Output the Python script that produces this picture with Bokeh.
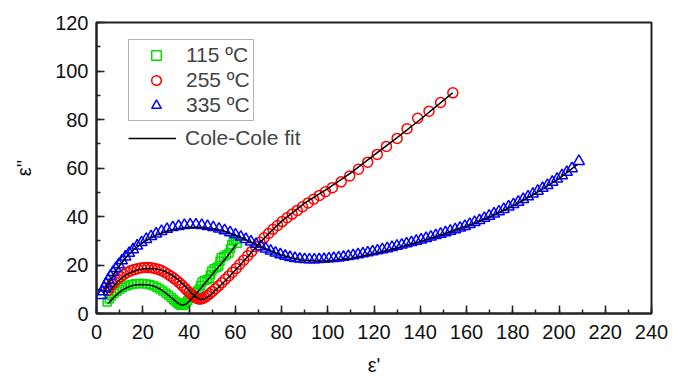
from bokeh.plotting import figure
from bokeh.models import Legend, LegendItem, SingleIntervalTicker, Range1d
from bokeh.embed import file_html
from bokeh.resources import INLINE

# ---------------- data ----------------
x_ticks = [0, 20, 40, 60, 80, 100, 120, 140, 160, 180, 200, 220, 240]
y_ticks = [0, 20, 40, 60, 80, 100, 120]

labels = ["115 ºC", "255 ºC", "335 ºC"]
fit_label = "Cole-Cole fit"
x_title = "ε'"
y_title = "ε''"

g_x = [4.6, 5.5, 6.5, 7.6, 8.8, 10.0, 11.3, 12.7, 14.1, 15.6, 17.1, 18.6, 20.1, 21.6,
       23.1, 24.6, 26.0, 27.4, 28.7, 30.0, 31.2, 32.3, 33.3, 34.2, 35.0, 35.7, 36.3,
       36.9, 37.4, 38.0, 38.7, 39.5, 40.4, 41.5, 42.6, 43.5, 44.3, 45.0, 45.6, 46.6,
       47.8, 48.8, 49.3, 49.8, 50.8, 52.0, 52.9, 53.4, 53.9, 55.0, 56.2, 57.3, 58.0,
       58.5, 59.2, 60.0, 60.8]
g_y = [4.7, 6.0, 7.2, 8.3, 9.2, 10.0, 10.7, 11.3, 11.8, 12.1, 12.3, 12.4, 12.4, 12.2,
       11.9, 11.4, 10.8, 10.1, 9.3, 8.4, 7.5, 6.6, 5.7, 4.9, 4.3, 3.8, 3.5,
       3.3, 3.4, 3.8, 4.5, 5.4, 6.5, 7.6, 8.6, 9.2, 10.0, 11.5, 13.0, 13.6,
       13.9, 14.5, 16.0, 17.5, 18.5, 19.0, 19.6, 21.5, 23.0, 23.6, 24.2, 25.0, 26.8,
       28.5, 30.0, 30.5, 29.0]

r_x = [5.0, 5.8, 6.8, 7.9, 9.1, 10.4, 11.8, 13.2, 14.7, 16.2, 17.7, 19.2, 20.7, 22.2,
       23.7, 25.2, 26.7, 28.1, 29.5, 30.9, 32.2, 33.5, 34.7, 35.9, 37.0, 38.1, 39.1,
       40.1, 41.0, 41.9, 42.7, 43.5, 44.3, 45.1, 45.9, 46.8, 47.8, 48.9, 50.1, 51.4,
       52.8, 54.2, 55.7, 57.2, 58.8, 60.4, 62.0, 63.7, 65.4, 67.1, 68.9, 70.7, 72.5,
       74.4, 76.3, 78.3, 80.3, 82.4, 84.6, 86.8, 89.1, 91.5, 93.9, 96.4, 99.0, 102.0,
       105.8, 109.5, 113.3, 117.3, 121.4, 125.4, 130.0, 134.3, 138.9, 143.8, 148.8, 154.1]
r_y = [9.5, 10.8, 12.0, 13.1, 14.2, 15.2, 16.1, 16.9, 17.6, 18.1, 18.5, 18.8, 19.0, 19.0,
       18.9, 18.6, 18.2, 17.7, 17.0, 16.2, 15.4, 14.5, 13.6, 12.6, 11.6, 10.6, 9.6,
       8.7, 7.9, 7.2, 6.6, 6.2, 6.0, 6.0, 6.2, 6.6, 7.3, 8.1, 9.1, 10.2,
       11.4, 12.7, 14.1, 15.5, 17.0, 18.6, 20.3, 22.0, 23.8, 25.6, 27.5, 29.4, 31.2,
       33.0, 34.7, 36.3, 37.9, 39.5, 41.0, 42.5, 44.0, 45.6, 47.1, 48.7, 50.2, 51.9,
       54.3, 56.7, 59.5, 62.4, 65.6, 68.9, 72.2, 76.2, 80.5, 83.4, 87.0, 91.0]

b_x = [2.0, 2.6, 3.3, 4.1, 5.0, 6.0, 7.1, 8.3, 9.6, 11.0, 12.5, 14.1, 15.8, 17.6, 19.5,
       21.5, 23.6, 25.8, 28.1, 30.5, 33.0, 35.5, 38.0, 40.5, 43.0, 45.5, 48.0, 50.5,
       53.0, 55.4, 57.8, 60.1, 62.4, 64.6, 66.8, 69.0, 71.1, 73.2, 75.3, 77.4, 79.5,
       81.6, 83.7, 85.8, 87.9, 90.0, 92.1, 94.2, 96.3, 98.4, 100.5, 102.6, 104.7, 106.8,
       108.9, 111.0, 113.1, 115.2, 117.3, 119.4, 121.5, 123.6, 125.7, 127.8, 129.9,
       132.0, 134.1, 136.2, 138.3, 140.4, 142.5, 144.6, 146.7, 148.8, 150.9, 153.0,
       155.1, 157.2, 159.3, 161.4, 163.5, 165.6, 167.7, 169.8, 171.9, 174.0, 176.1,
       178.2, 180.3, 182.4, 184.5, 186.6, 188.7, 190.8, 192.9, 195.0, 197.1, 199.2,
       201.3, 203.4, 205.6, 208.6]
b_y = [7.5, 9.0, 10.6, 12.2, 13.8, 15.4, 17.0, 18.6, 20.2, 21.8, 23.4, 24.9, 26.4, 27.9,
       29.3, 30.6, 31.8, 32.9, 33.9, 34.8, 35.5, 36.0, 36.4, 36.6, 36.6, 36.4, 36.0,
       35.5, 34.9, 34.2, 33.4, 32.5, 31.6, 30.6, 29.6, 28.6, 27.6, 26.7, 25.8, 25.0,
       24.3, 23.7, 23.2, 22.8, 22.5, 22.3, 22.2, 22.2, 22.3, 22.4, 22.6, 22.8, 23.0,
       23.3, 23.6, 23.9, 24.3, 24.7, 25.1, 25.5, 25.9, 26.4, 26.8, 27.3, 27.8, 28.3,
       28.8, 29.3, 29.9, 30.4, 31.0, 31.6, 32.2, 32.8, 33.4, 34.0, 34.6, 35.3, 36.0,
       36.8, 37.6, 38.4, 39.3, 40.2, 41.1, 42.0, 43.0, 44.0, 45.0, 46.0, 47.1, 48.2,
       49.3, 50.5, 51.7, 52.9, 54.2, 55.5, 56.9, 58.3, 59.8, 62.8]

gf_x = [5, 7, 9, 11, 13, 15, 17.5, 20, 22.5, 25, 27.5, 30, 32, 34, 35.5, 36.5, 37.5,
        38.5, 40, 42, 45, 48, 51, 54, 57, 60.5]
gf_y = [4.0, 6.2, 8.0, 9.5, 10.6, 11.4, 11.9, 12.0, 11.8, 11.2, 10.1, 8.4, 6.8, 5.2,
        4.1, 3.6, 3.5, 3.8, 4.9, 7.0, 10.3, 13.7, 17.2, 20.6, 24.1, 28.5]

rf_x = [5.5, 7, 9, 11, 13, 15, 17.5, 20, 22.5, 25, 27.5, 30, 32.5, 35, 37.5, 40, 42,
        44, 45.5, 47, 49, 52, 56, 60, 65, 70, 75, 80, 90, 100, 110, 120, 130, 140, 154]
rf_y = [8.5, 10.8, 13.0, 14.7, 16.0, 17.0, 17.9, 18.4, 18.6, 18.5, 18.0, 17.2, 15.9,
        14.2, 12.0, 9.6, 7.6, 6.1, 5.8, 6.2, 7.4, 10.0, 13.8, 17.8, 23.0, 28.5, 33.5,
        38.0, 45.5, 51.5, 58.0, 65.3, 72.5, 80.0, 91.0]

bf_x = [3, 4, 5.5, 7.5, 10, 13, 16, 20, 25, 30, 35, 40, 45, 50, 55, 60, 65, 70, 75, 80,
        85, 90, 95, 100, 110, 120, 130, 140, 150, 160, 170, 180, 190, 200, 208]
bf_y = [7.5, 10.0, 13.0, 16.3, 19.8, 23.3, 26.2, 29.2, 32.0, 33.8, 35.0, 35.6, 35.6,
        35.1, 34.0, 32.3, 30.2, 28.0, 25.9, 24.0, 22.7, 21.9, 21.6, 21.7, 22.8, 24.7,
        27.0, 29.7, 32.7, 36.0, 39.8, 44.3, 49.6, 55.6, 61.5]

# ---------------- figure ----------------
FONT = "Liberation Sans"
p = figure(width=686, height=379, output_backend="svg", toolbar_location=None,
           x_range=Range1d(x_ticks[0], x_ticks[-1]), y_range=Range1d(y_ticks[0], y_ticks[-1]),
           min_border_left=96, min_border_right=35, min_border_top=22,
           min_border_bottom=66)
p.grid.visible = False
p.outline_line_color = "#222222"
p.outline_line_width = 2
p.background_fill_color = "white"
p.border_fill_color = "white"

for ax, ticks in ((p.xaxis[0], x_ticks), (p.yaxis[0], y_ticks)):
    ax.ticker = SingleIntervalTicker(interval=ticks[1] - ticks[0], num_minor_ticks=2)
    ax.axis_line_color = "#222222"
    ax.axis_line_width = 2
    ax.major_tick_line_color = "#222222"
    ax.minor_tick_line_color = "#222222"
    ax.major_tick_line_width = 1.5
    ax.minor_tick_line_width = 1.5
    ax.major_tick_in = 8
    ax.major_tick_out = 0
    ax.minor_tick_in = 4
    ax.minor_tick_out = 0
    ax.major_label_text_font = FONT
    ax.major_label_text_font_size = "20px"
    ax.major_label_text_color = "#111111"
    ax.axis_label_text_font = FONT
    ax.axis_label_text_font_size = "20px"
    ax.axis_label_text_font_style = "normal"
    ax.axis_label_text_color = "#111111"

p.xaxis.axis_label = x_title
p.yaxis.axis_label = y_title
p.xaxis.major_label_standoff = 11
p.xaxis.axis_label_standoff = 12
p.yaxis.major_label_standoff = 8
p.yaxis.axis_label_standoff = 17

g = p.scatter(g_x, g_y, marker="square", size=8, fill_color=None,
              line_color="#00e000", line_width=1.5)
r = p.scatter(r_x, r_y, marker="circle", size=10, fill_color=None,
              line_color="#ff0000", line_width=1.5)
b = p.scatter(b_x, b_y, marker="triangle", size=11, fill_color=None,
              line_color="#0000ff", line_width=1.5)

f1 = p.line(gf_x, gf_y, line_color="black", line_width=1.5)
p.line(rf_x, rf_y, line_color="black", line_width=1.5)
p.line(bf_x, bf_y, line_color="black", line_width=1.5)

leg1 = Legend(items=[LegendItem(label=labels[0], renderers=[g]),
                     LegendItem(label=labels[1], renderers=[r]),
                     LegendItem(label=labels[2], renderers=[b])],
              location=(32, 192), orientation="vertical",
              padding=3, spacing=1, margin=0,
              glyph_width=48, glyph_height=24, label_height=24,
              label_standoff=6,
              label_text_font=FONT, label_text_font_size="21px",
              border_line_color="#666666", border_line_width=1.5,
              background_fill_alpha=0)
leg2 = Legend(items=[LegendItem(label=fit_label, renderers=[f1])],
              location=(32, 163), orientation="vertical",
              padding=0, spacing=0, margin=0,
              glyph_width=48, glyph_height=24, label_height=24,
              label_standoff=9,
              label_text_font=FONT, label_text_font_size="21px",
              border_line_color=None, background_fill_alpha=0)
p.add_layout(leg1)
p.add_layout(leg2)

open("out.html", "w").write(file_html(p, INLINE))
